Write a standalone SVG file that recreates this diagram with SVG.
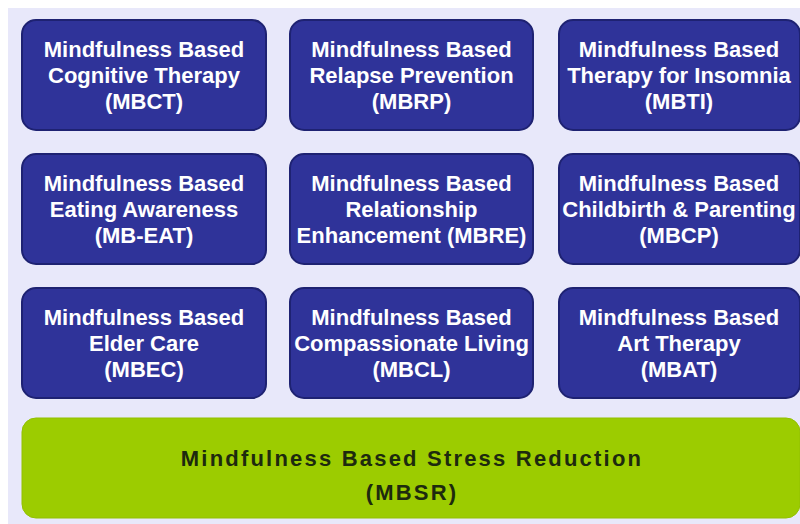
<svg xmlns="http://www.w3.org/2000/svg" width="800" height="524" viewBox="0 0 800 524">
  <style>
    .box { fill: #2f3399; stroke: #1e2272; stroke-width: 2; }
    .base { fill: #9ccc00; stroke: #92c000; stroke-width: 1; }
    .lbl { font-family: "Liberation Sans", Arial, sans-serif; font-weight: bold; font-size: 22px; fill: #ffffff; text-anchor: middle; }
    .base-lbl { font-family: "Liberation Sans", Arial, sans-serif; font-weight: bold; font-size: 22px; fill: #1d2a0e; text-anchor: middle; letter-spacing: 2.2px; }
  </style>
  <rect x="0" y="0" width="800" height="524" fill="#ffffff"/>
  <rect x="8" y="8" width="792" height="516" fill="#e8e8fa"/>

  <!-- Row 1 -->
  <g id="mbct">
    <rect class="box" x="22" y="20" width="244" height="110" rx="14"/>
    <text class="lbl" x="144" y="57">Mindfulness Based</text>
    <text class="lbl" x="144" y="83">Cognitive Therapy</text>
    <text class="lbl" x="144" y="109">(MBCT)</text>
  </g>
  <g id="mbrp">
    <rect class="box" x="290" y="20" width="243" height="110" rx="14"/>
    <text class="lbl" x="411.5" y="57">Mindfulness Based</text>
    <text class="lbl" x="411.5" y="83">Relapse Prevention</text>
    <text class="lbl" x="411.5" y="109">(MBRP)</text>
  </g>
  <g id="mbti">
    <rect class="box" x="559" y="20" width="241" height="110" rx="14"/>
    <text class="lbl" x="679" y="57">Mindfulness Based</text>
    <text class="lbl" x="679" y="83">Therapy for Insomnia</text>
    <text class="lbl" x="679" y="109">(MBTI)</text>
  </g>

  <!-- Row 2 -->
  <g id="mb-eat">
    <rect class="box" x="22" y="154" width="244" height="110" rx="14"/>
    <text class="lbl" x="144" y="191">Mindfulness Based</text>
    <text class="lbl" x="144" y="217">Eating Awareness</text>
    <text class="lbl" x="144" y="243">(MB-EAT)</text>
  </g>
  <g id="mbre">
    <rect class="box" x="290" y="154" width="243" height="110" rx="14"/>
    <text class="lbl" x="411.5" y="191">Mindfulness Based</text>
    <text class="lbl" x="411.5" y="217">Relationship</text>
    <text class="lbl" x="411.5" y="243">Enhancement (MBRE)</text>
  </g>
  <g id="mbcp">
    <rect class="box" x="559" y="154" width="241" height="110" rx="14"/>
    <text class="lbl" x="679" y="191">Mindfulness Based</text>
    <text class="lbl" x="679" y="217">Childbirth &amp; Parenting</text>
    <text class="lbl" x="679" y="243">(MBCP)</text>
  </g>

  <!-- Row 3 -->
  <g id="mbec">
    <rect class="box" x="22" y="288" width="244" height="110" rx="14"/>
    <text class="lbl" x="144" y="325">Mindfulness Based</text>
    <text class="lbl" x="144" y="351">Elder Care</text>
    <text class="lbl" x="144" y="377">(MBEC)</text>
  </g>
  <g id="mbcl">
    <rect class="box" x="290" y="288" width="243" height="110" rx="14"/>
    <text class="lbl" x="411.5" y="325">Mindfulness Based</text>
    <text class="lbl" x="411.5" y="351">Compassionate Living</text>
    <text class="lbl" x="411.5" y="377">(MBCL)</text>
  </g>
  <g id="mbat">
    <rect class="box" x="559" y="288" width="241" height="110" rx="14"/>
    <text class="lbl" x="679" y="325">Mindfulness Based</text>
    <text class="lbl" x="679" y="351">Art Therapy</text>
    <text class="lbl" x="679" y="377">(MBAT)</text>
  </g>

  <!-- Foundation -->
  <g id="mbsr">
    <rect class="base" x="22" y="418" width="778" height="100" rx="14"/>
    <text class="base-lbl" x="412" y="466">Mindfulness Based Stress Reduction</text>
    <text class="base-lbl" x="412" y="500">(MBSR)</text>
  </g>

  <g id="connectors"/>
</svg>
